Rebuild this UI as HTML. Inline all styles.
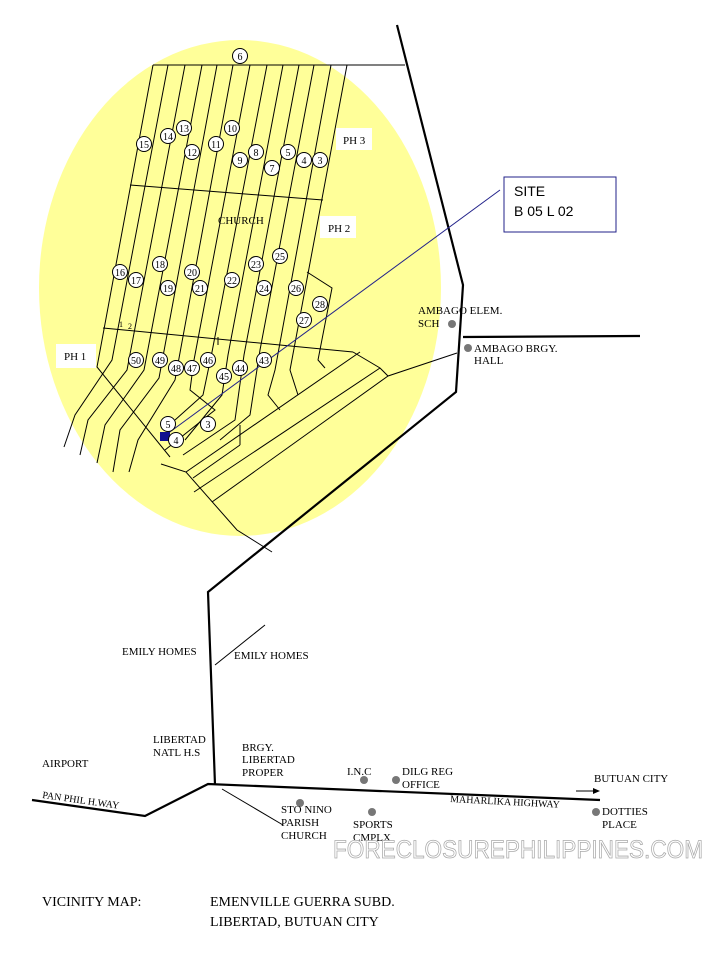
<!DOCTYPE html>
<html><head><meta charset="utf-8"><style>
body{margin:0;background:#fff;}
svg{display:block;font-family:"Liberation Serif",serif;}
.t{font-size:11px;fill:#000;}
.c{fill:#fff;stroke:#000;stroke-width:1;}
.n{font-size:10px;text-anchor:middle;fill:#000;}
</style></head><body>
<svg width="720" height="960" viewBox="0 0 720 960" xmlns="http://www.w3.org/2000/svg">
<ellipse cx="240" cy="288" rx="201" ry="248" fill="#ffff99"/>
<g stroke="#000" stroke-width="1" fill="none">
<line x1="153" y1="65" x2="405" y2="65"/>
<line x1="130" y1="185" x2="323" y2="200"/>
<line x1="103" y1="328" x2="353" y2="352"/>
<polyline points="353,352 380,368 388,376 457,353"/>
<polyline points="153,65 97,367 170,457"/>
<polyline points="168,65 112,360 75,415 64,447"/>
<polyline points="185,65 127,370 88,420 80,455"/>
<polyline points="202,65 144,370 105,425 97,463"/>
<polyline points="217,65 159,378 120,430 113,472"/>
<polyline points="233,65 175,380 138,440 129,472"/>
<polyline points="250,65 194,360 190,390 215,410 165,450"/>
<polyline points="267,65 212,352 203,395 175,420"/>
<polyline points="283,65 228,355 222,395 185,440"/>
<polyline points="299,65 244,355 235,420 183,455"/>
<polyline points="314,65 260,350 250,415 220,440"/>
<polyline points="331,65 275,370 268,395 280,410"/>
<polyline points="347,65 290,370 298,395"/>
<polyline points="307,272 332,288 318,360 325,368"/>
<line x1="218" y1="337" x2="218" y2="345"/>
<polyline points="161,464 186,472 237,530 272,552"/>
<line x1="186" y1="472" x2="360" y2="352"/>
<line x1="193" y1="478" x2="240" y2="445"/>
<line x1="240" y1="445" x2="240" y2="425"/>
<line x1="194" y1="492" x2="380" y2="368"/>
<line x1="212" y1="502" x2="388" y2="376"/>
<line x1="215" y1="665" x2="265" y2="625"/>
<line x1="222" y1="789" x2="283" y2="825"/>
</g>
<g stroke="#000" stroke-width="2.2" fill="none">
<polyline points="397,25 463,285 456,392 208,592 215,785"/>
<line x1="463" y1="337" x2="640" y2="336"/>
<polyline points="32,800 145,816 208,784 600,800"/>
</g>
<line x1="500" y1="190" x2="163" y2="437" stroke="#22228a" stroke-width="1"/>
<rect x="160" y="432" width="10" height="9" fill="#101090"/>
<rect x="504" y="177" width="112" height="55" fill="#fff" stroke="#22228a"/>
<text x="514" y="196" style="font-family:'Liberation Sans',sans-serif;font-size:14px">SITE</text>
<text x="514" y="216" style="font-family:'Liberation Sans',sans-serif;font-size:14px">B 05 L 02</text>
<rect x="336" y="128" width="36" height="22" fill="#fff"/>
<text class="t" x="343" y="144">PH 3</text>
<rect x="320" y="216" width="36" height="22" fill="#fff"/>
<text class="t" x="328" y="232">PH 2</text>
<rect x="56" y="344" width="40" height="24" fill="#fff"/>
<text class="t" x="64" y="360">PH 1</text>
<text class="t" x="218" y="224">CHURCH</text>
<text x="119" y="327" style="font-size:8px">1</text><text x="128" y="329" style="font-size:8px">2</text>
<g>
<circle class="c" cx="240" cy="56" r="7.5"/><text class="n" x="240" y="60">6</text>
<circle class="c" cx="144" cy="144" r="7.5"/><text class="n" x="144" y="148">15</text>
<circle class="c" cx="168" cy="136" r="7.5"/><text class="n" x="168" y="140">14</text>
<circle class="c" cx="184" cy="128" r="7.5"/><text class="n" x="184" y="132">13</text>
<circle class="c" cx="192" cy="152" r="7.5"/><text class="n" x="192" y="156">12</text>
<circle class="c" cx="216" cy="144" r="7.5"/><text class="n" x="216" y="148">11</text>
<circle class="c" cx="232" cy="128" r="7.5"/><text class="n" x="232" y="132">10</text>
<circle class="c" cx="240" cy="160" r="7.5"/><text class="n" x="240" y="164">9</text>
<circle class="c" cx="256" cy="152" r="7.5"/><text class="n" x="256" y="156">8</text>
<circle class="c" cx="272" cy="168" r="7.5"/><text class="n" x="272" y="172">7</text>
<circle class="c" cx="288" cy="152" r="7.5"/><text class="n" x="288" y="156">5</text>
<circle class="c" cx="304" cy="160" r="7.5"/><text class="n" x="304" y="164">4</text>
<circle class="c" cx="320" cy="160" r="7.5"/><text class="n" x="320" y="164">3</text>
<circle class="c" cx="120" cy="272" r="7.5"/><text class="n" x="120" y="276">16</text>
<circle class="c" cx="136" cy="280" r="7.5"/><text class="n" x="136" y="284">17</text>
<circle class="c" cx="160" cy="264" r="7.5"/><text class="n" x="160" y="268">18</text>
<circle class="c" cx="168" cy="288" r="7.5"/><text class="n" x="168" y="292">19</text>
<circle class="c" cx="192" cy="272" r="7.5"/><text class="n" x="192" y="276">20</text>
<circle class="c" cx="200" cy="288" r="7.5"/><text class="n" x="200" y="292">21</text>
<circle class="c" cx="232" cy="280" r="7.5"/><text class="n" x="232" y="284">22</text>
<circle class="c" cx="256" cy="264" r="7.5"/><text class="n" x="256" y="268">23</text>
<circle class="c" cx="264" cy="288" r="7.5"/><text class="n" x="264" y="292">24</text>
<circle class="c" cx="280" cy="256" r="7.5"/><text class="n" x="280" y="260">25</text>
<circle class="c" cx="296" cy="288" r="7.5"/><text class="n" x="296" y="292">26</text>
<circle class="c" cx="304" cy="320" r="7.5"/><text class="n" x="304" y="324">27</text>
<circle class="c" cx="320" cy="304" r="7.5"/><text class="n" x="320" y="308">28</text>
<circle class="c" cx="136" cy="360" r="7.5"/><text class="n" x="136" y="364">50</text>
<circle class="c" cx="160" cy="360" r="7.5"/><text class="n" x="160" y="364">49</text>
<circle class="c" cx="176" cy="368" r="7.5"/><text class="n" x="176" y="372">48</text>
<circle class="c" cx="192" cy="368" r="7.5"/><text class="n" x="192" y="372">47</text>
<circle class="c" cx="208" cy="360" r="7.5"/><text class="n" x="208" y="364">46</text>
<circle class="c" cx="224" cy="376" r="7.5"/><text class="n" x="224" y="380">45</text>
<circle class="c" cx="240" cy="368" r="7.5"/><text class="n" x="240" y="372">44</text>
<circle class="c" cx="264" cy="360" r="7.5"/><text class="n" x="264" y="364">43</text>
<circle class="c" cx="168" cy="424" r="7.5"/><text class="n" x="168" y="428">5</text>
<circle class="c" cx="176" cy="440" r="7.5"/><text class="n" x="176" y="444">4</text>
<circle class="c" cx="208" cy="424" r="7.5"/><text class="n" x="208" y="428">3</text>
</g>
<g fill="#777">
<circle cx="452" cy="324" r="4"/><circle cx="468" cy="348" r="4"/>
<circle cx="364" cy="780" r="4"/><circle cx="396" cy="780" r="4"/>
<circle cx="300" cy="803" r="4"/><circle cx="372" cy="812" r="4"/>
<circle cx="596" cy="812" r="4"/>
</g>
<text class="t" x="418" y="314">AMBAGO ELEM.</text>
<text class="t" x="418" y="327">SCH</text>
<text class="t" x="474" y="352">AMBAGO BRGY.</text>
<text class="t" x="474" y="364">HALL</text>
<text class="t" x="122" y="655">EMILY HOMES</text>
<text class="t" x="234" y="659">EMILY HOMES</text>
<text class="t" x="153" y="743">LIBERTAD</text>
<text class="t" x="153" y="756">NATL H.S</text>
<text class="t" x="42" y="767">AIRPORT</text>
<text class="t" x="242" y="751">BRGY.</text>
<text class="t" x="242" y="763">LIBERTAD</text>
<text class="t" x="242" y="776">PROPER</text>
<text class="t" x="347" y="775">I.N.C</text>
<text class="t" x="402" y="775">DILG REG</text>
<text class="t" x="402" y="788">OFFICE</text>
<text class="t" x="594" y="782">BUTUAN CITY</text>
<line x1="576" y1="791" x2="598" y2="791" stroke="#000"/><polygon points="600,791 593,788 593,794" fill="#000"/>
<text class="t" x="42" y="798" transform="rotate(8 42 798)" style="font-size:10px">PAN PHIL H.WAY</text>
<text class="t" x="450" y="802" transform="rotate(3 450 802)" style="font-size:10px">MAHARLIKA HIGHWAY</text>
<text class="t" x="602" y="815">DOTTIES</text>
<text class="t" x="602" y="828">PLACE</text>
<text class="t" x="281" y="813">STO NINO</text>
<text class="t" x="281" y="826">PARISH</text>
<text class="t" x="281" y="839">CHURCH</text>
<text class="t" x="353" y="828">SPORTS</text>
<text class="t" x="353" y="841">CMPLX</text>
<text x="333" y="858" style="font-family:'Liberation Sans',sans-serif;font-size:25px;fill:#fff;stroke:#aaa;stroke-width:0.8" textLength="370" lengthAdjust="spacingAndGlyphs">FORECLOSUREPHILIPPINES.COM</text>
<text x="42" y="906" style="font-size:14px">VICINITY MAP:</text>
<text x="210" y="906" style="font-size:14px">EMENVILLE GUERRA SUBD.</text>
<text x="210" y="926" style="font-size:14px">LIBERTAD, BUTUAN CITY</text>
</svg>
</body></html>
